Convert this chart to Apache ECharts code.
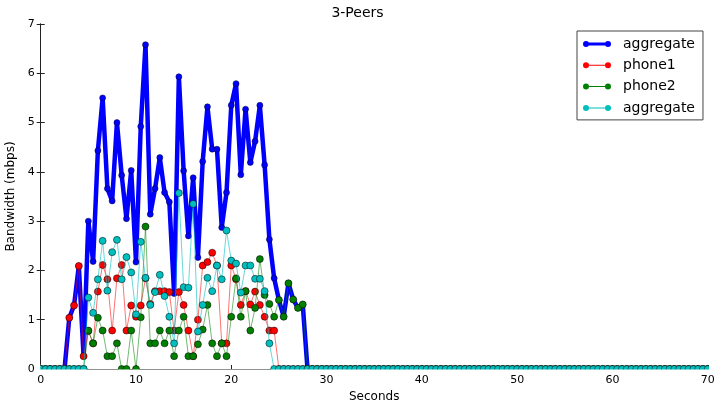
<!DOCTYPE html>
<html>
<head>
<meta charset="utf-8">
<script src="https://cdn.jsdelivr.net/npm/echarts@6/dist/echarts.min.js"></script>
<style>
html,body{margin:0;padding:0;background:#fff;}
#chart{width:715px;height:404px;}
</style>
</head>
<body>
<div id="chart"></div>
<script>
const chartTitle = '3-Peers';
const xAxisName = 'Seconds';
const yAxisName = 'Bandwidth (mbps)';
const seriesNames = ['aggregate', 'phone1', 'phone2', 'aggregate'];
const xTicks = [0, 10, 20, 30, 40, 50, 60, 70];
const yTicks = [0, 1, 2, 3, 4, 5, 6, 7];

const seconds = [0,0.5,1,1.5,2,2.5,3,3.5,4,4.5,5,5.5,6,6.5,7,7.5,8,8.5,9,9.5,10,10.5,11,11.5,12,12.5,13,13.5,14,14.5,15,15.5,16,16.5,17,17.5,18,18.5,19,19.5,20,20.5,21,21.5,22,22.5,23,23.5,24,24.5,25,25.5,26,26.5,27,27.5,28,28.5,29,29.5,30,30.5,31,31.5,32,32.5,33,33.5,34,34.5,35,35.5,36,36.5,37,37.5,38,38.5,39,39.5,40,40.5,41,41.5,42,42.5,43,43.5,44,44.5,45,45.5,46,46.5,47,47.5,48,48.5,49,49.5,50,50.5,51,51.5,52,52.5,53,53.5,54,54.5,55,55.5,56,56.5,57,57.5,58,58.5,59,59.5,60,60.5,61,61.5,62,62.5,63,63.5,64,64.5,65,65.5,66,66.5,67,67.5,68,68.5,69,69.5,70];

const aggregateTotal = [0,0,0,0,0,0,
1.04,1.29,2.09,0.26,3.00,2.18,4.43,5.50,3.66,3.41,
5.00,3.93,3.05,4.03,2.17,4.92,6.58,3.14,3.66,4.29,
3.58,3.39,1.53,5.93,4.02,2.70,3.88,2.26,4.21,5.32,
4.46,4.46,2.87,3.58,5.35,5.79,3.94,5.27,4.19,4.62,
5.35,4.14,2.63,1.84,1.40,1.06,1.74,1.41,1.24,1.31,
0,0,0,0,0,0,0,0,0,0,0,0,0,0,0,0,0,0,0,0,0,0,0,0,0,0,0,0,0,0,0,0,0,0,0,0,0,0,0,0,
0,0,0,0,0,0,0,0,0,0,0,0,0,0,0,0,0,0,0,0,0,0,0,0,0,0,0,0,0,0,0,0,0,0,0,0,0,0,0,0,
0,0,0,0,0];

const phone1 = [0,0,0,0,0,0,
1.04,1.29,2.09,0.26,0.77,0.52,1.57,2.11,1.82,0.78,
1.84,2.11,0.78,1.29,1.06,1.29,1.84,1.32,1.58,1.58,
1.58,1.56,0.78,1.56,1.30,0.78,0.26,1.00,2.10,2.17,
2.36,2.10,0.52,0.52,2.10,1.82,1.30,1.58,1.31,1.57,
1.30,1.06,0.78,0.78,0,0,0,0,0,0,
0,0,0,0,0,0,0,0,0,0,0,0,0,0,0,0,0,0,0,0,0,0,0,0,0,0,0,0,0,0,0,0,0,0,0,0,0,0,0,0,
0,0,0,0,0,0,0,0,0,0,0,0,0,0,0,0,0,0,0,0,0,0,0,0,0,0,0,0,0,0,0,0,0,0,0,0,0,0,0,0,
0,0,0,0,0];

const phone2 = [0,0,0,0,0,0,
0,0,0,0,0.78,0.52,1.04,0.78,0.26,0.26,
0.52,0,0,0.78,0,1.05,2.89,0.52,0.52,0.78,
0.52,0.78,0.26,0.78,1.06,0.26,0.26,0.50,0.80,1.30,
0.52,0.26,0.52,0.26,1.06,1.84,1.06,1.58,0.78,1.24,
2.23,1.50,1.32,1.06,1.40,1.06,1.74,1.41,1.24,1.31,
0,0,0,0,0,0,0,0,0,0,0,0,0,0,0,0,0,0,0,0,0,0,0,0,0,0,0,0,0,0,0,0,0,0,0,0,0,0,0,0,
0,0,0,0,0,0,0,0,0,0,0,0,0,0,0,0,0,0,0,0,0,0,0,0,0,0,0,0,0,0,0,0,0,0,0,0,0,0,0,0,
0,0,0,0,0];

const aggregateCyan = [0,0,0,0,0,0,
0,0,0,0,1.45,1.14,1.82,2.60,1.59,2.37,
2.62,1.82,2.27,1.96,1.11,2.58,1.85,1.30,1.56,1.91,
1.48,1.06,0.52,3.57,1.66,1.65,3.35,0.76,1.30,1.85,
1.58,2.10,1.82,2.81,2.20,2.14,1.55,2.10,2.10,1.83,
1.83,1.58,0.52,0,0,0,0,0,0,0,
0,0,0,0,0,0,0,0,0,0,0,0,0,0,0,0,0,0,0,0,0,0,0,0,0,0,0,0,0,0,0,0,0,0,0,0,0,0,0,0,
0,0,0,0,0,0,0,0,0,0,0,0,0,0,0,0,0,0,0,0,0,0,0,0,0,0,0,0,0,0,0,0,0,0,0,0,0,0,0,0,
0,0,0,0,0];

const pairs = arr => seconds.map((t, i) => [t, arr[i]]);

const FONT = 'DejaVu Sans';
const iconThin = 'path://M0,3A3,3 0 1,1 6,3A3,3 0 1,1 0,3Z M22,3A3,3 0 1,1 28,3A3,3 0 1,1 22,3Z M3,2.5L25,2.5L25,3.5L3,3.5Z';
const iconThick = 'path://M0,3A3,3 0 1,1 6,3A3,3 0 1,1 0,3Z M22,3A3,3 0 1,1 28,3A3,3 0 1,1 22,3Z M3,1.6L25,1.6L25,4.4L3,4.4Z';

const legendNames = ['aggregate', 'phone1', 'phone2', 'aggregate '];

const chart = echarts.init(document.getElementById('chart'), null, {renderer: 'canvas'});

const axisLineStyle = {show: true, lineStyle: {color: '#222', width: 1}};
const tickStyle = {show: true, inside: true, length: 4, lineStyle: {color: '#222', width: 1}};

chart.setOption({
  animation: false,
  backgroundColor: '#fff',
  title: {
    text: chartTitle, left: 'center', top: 6, padding: 0,
    textStyle: {fontFamily: FONT, fontSize: 14, fontWeight: 'normal', color: '#000'}
  },
  grid: {left: 40.7, right: 7.3, top: 24, bottom: 35, containLabel: false, outerBoundsMode: 'none'},
  legend: {
    orient: 'vertical', left: 577, top: 31,
    padding: [6, 8, 5, 6],
    itemWidth: 28, itemHeight: 6, itemGap: 7.3,
    backgroundColor: '#fff', borderColor: '#444', borderWidth: 1,
    formatter: n => n.trim(),
    textStyle: {fontFamily: FONT, fontSize: 14, color: '#000', lineHeight: 14, padding: [0, 0, 0, 7]},
    itemStyle: {borderWidth: 0},
    data: [
      {name: legendNames[0], icon: iconThick},
      {name: legendNames[1], icon: iconThin},
      {name: legendNames[2], icon: iconThin},
      {name: legendNames[3], icon: iconThin}
    ]
  },
  xAxis: [{
    type: 'value', min: xTicks[0], max: xTicks[xTicks.length - 1], interval: 10,
    name: xAxisName, nameLocation: 'middle', nameGap: 17,
    nameTextStyle: {fontFamily: FONT, fontSize: 12, color: '#000'},
    axisLine: axisLineStyle, axisTick: tickStyle, splitLine: {show: false},
    axisLabel: {fontFamily: FONT, fontSize: 11, color: '#000', margin: 6}
  }, {
    type: 'value', position: 'top', min: xTicks[0], max: xTicks[xTicks.length - 1], interval: 10,
    axisLine: axisLineStyle, axisTick: tickStyle, splitLine: {show: false}, axisLabel: {show: false}
  }],
  yAxis: [{
    type: 'value', min: yTicks[0], max: yTicks[yTicks.length - 1], interval: 1,
    name: yAxisName, nameLocation: 'middle', nameGap: 13,
    nameTextStyle: {fontFamily: FONT, fontSize: 12, color: '#000'},
    axisLine: axisLineStyle, axisTick: tickStyle, splitLine: {show: false},
    axisLabel: {fontFamily: FONT, fontSize: 11, color: '#000', margin: 6}
  }, {
    type: 'value', position: 'right', min: yTicks[0], max: yTicks[yTicks.length - 1], interval: 1,
    axisLine: axisLineStyle, axisTick: tickStyle, splitLine: {show: false}, axisLabel: {show: false}
  }],
  series: [
    {
      name: legendNames[0], type: 'line', data: pairs(aggregateTotal), z: 2,
      symbol: 'circle', symbolSize: 6, showAllSymbol: true,
      lineStyle: {color: '#0000ff', width: 4.5},
      itemStyle: {color: '#0000ff', borderColor: '#000033', borderWidth: 0.5}
    },
    {
      name: legendNames[1], type: 'line', data: pairs(phone1), z: 3,
      symbol: 'circle', symbolSize: 7, showAllSymbol: true,
      lineStyle: {color: '#ff0000', width: 1, opacity: 0.55},
      itemStyle: {color: '#ff0000', borderColor: '#000', borderWidth: 0.5}
    },
    {
      name: legendNames[2], type: 'line', data: pairs(phone2), z: 4,
      symbol: 'circle', symbolSize: 7, showAllSymbol: true,
      lineStyle: {color: '#008000', width: 1, opacity: 0.55},
      itemStyle: {color: '#008000', borderColor: '#000', borderWidth: 0.5}
    },
    {
      name: legendNames[3], type: 'line', data: pairs(aggregateCyan), z: 5,
      symbol: 'circle', symbolSize: 7, showAllSymbol: true,
      lineStyle: {color: '#00bfbf', width: 1, opacity: 0.6},
      itemStyle: {color: '#00bfbf', borderColor: '#000', borderWidth: 0.5}
    }
  ]
});

// Clip markers at the plot frame (matplotlib clips them to the axes box).
const yBottom = chart.convertToPixel({yAxisIndex: 0}, yTicks[0]);
const yTop = chart.convertToPixel({yAxisIndex: 0}, yTicks[yTicks.length - 1]);
const xLeft = chart.convertToPixel({xAxisIndex: 0}, xTicks[0]);
const xRight = chart.convertToPixel({xAxisIndex: 0}, xTicks[xTicks.length - 1]);
chart.setOption({
  graphic: [
    {type: 'rect', z: 50, silent: true,
     shape: {x: xLeft - 6, y: Math.round(yBottom) + 0.5, width: xRight - xLeft + 14, height: 5},
     style: {fill: '#fff'}},
    {type: 'rect', z: 50, silent: true,
     shape: {x: Math.round(xRight) + 1, y: yTop, width: 8, height: yBottom - yTop + 6},
     style: {fill: '#fff'}},
    {type: 'rect', z: 50, silent: true,
     shape: {x: xLeft - 5, y: yBottom - 5, width: 4.5, height: 10},
     style: {fill: '#fff'}}
  ]
});
</script>
</body>
</html>
